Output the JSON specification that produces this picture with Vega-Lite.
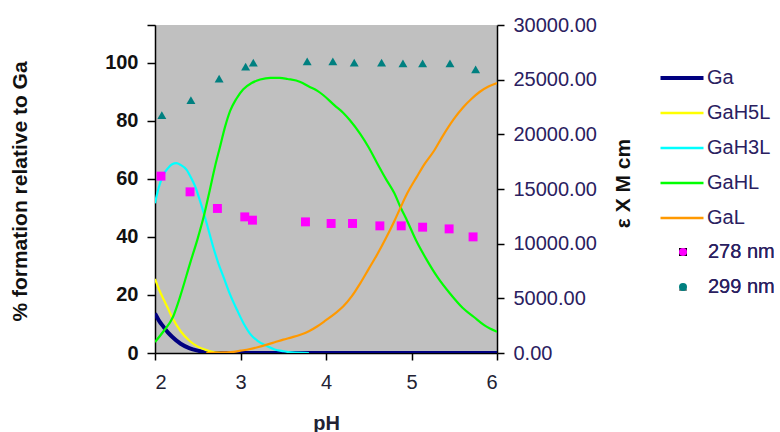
{
  "$schema": "https://vega.github.io/schema/vega-lite/v6.json",
  "width": 342,
  "height": 328,
  "autosize": {"type": "none"},
  "padding": {"left": 155, "top": 25, "right": 283, "bottom": 79},
  "background": "white",
  "config": {
    "view": {"fill": "#c0c0c0", "stroke": null},
    "font": "Liberation Sans",
    "axis": {"grid": false, "domainColor": "black", "tickColor": "black", "domainWidth": 1.5, "tickWidth": 1.5, "labelFont": "Liberation Sans", "titleFont": "Liberation Sans"},
    "legend": {"labelFont": "Liberation Sans"}
  },
  "datasets": {
    "species": [
      {"species": "Ga", "pH": 2.0, "pct": 13.6},
      {"species": "Ga", "pH": 2.05, "pct": 11.0},
      {"species": "Ga", "pH": 2.1, "pct": 9.0},
      {"species": "Ga", "pH": 2.15, "pct": 7.1},
      {"species": "Ga", "pH": 2.2, "pct": 5.6},
      {"species": "Ga", "pH": 2.3, "pct": 3.2},
      {"species": "Ga", "pH": 2.4, "pct": 1.7},
      {"species": "Ga", "pH": 2.5, "pct": 0.8},
      {"species": "Ga", "pH": 2.6, "pct": 0.2},
      {"species": "Ga", "pH": 2.7, "pct": 0},
      {"species": "Ga", "pH": 3.0, "pct": 0},
      {"species": "Ga", "pH": 4.0, "pct": 0},
      {"species": "Ga", "pH": 5.0, "pct": 0},
      {"species": "Ga", "pH": 6.0, "pct": 0},
      {"species": "GaH5L", "pH": 2.0, "pct": 25.5},
      {"species": "GaH5L", "pH": 2.05, "pct": 21.7},
      {"species": "GaH5L", "pH": 2.1, "pct": 18.5},
      {"species": "GaH5L", "pH": 2.15, "pct": 15.5},
      {"species": "GaH5L", "pH": 2.2, "pct": 12.3},
      {"species": "GaH5L", "pH": 2.3, "pct": 7.5},
      {"species": "GaH5L", "pH": 2.4, "pct": 4.3},
      {"species": "GaH5L", "pH": 2.5, "pct": 2.2},
      {"species": "GaH5L", "pH": 2.6, "pct": 1.0},
      {"species": "GaH5L", "pH": 2.7, "pct": 0.2},
      {"species": "GaH5L", "pH": 2.8, "pct": 0},
      {"species": "GaH3L", "pH": 2.0, "pct": 51.6},
      {"species": "GaH3L", "pH": 2.03, "pct": 55.5},
      {"species": "GaH3L", "pH": 2.06, "pct": 58.5},
      {"species": "GaH3L", "pH": 2.1, "pct": 61.5},
      {"species": "GaH3L", "pH": 2.15, "pct": 63.6},
      {"species": "GaH3L", "pH": 2.2, "pct": 65.0},
      {"species": "GaH3L", "pH": 2.25, "pct": 65.4},
      {"species": "GaH3L", "pH": 2.3, "pct": 64.8},
      {"species": "GaH3L", "pH": 2.37, "pct": 63.1},
      {"species": "GaH3L", "pH": 2.42, "pct": 60.5},
      {"species": "GaH3L", "pH": 2.47, "pct": 57.4},
      {"species": "GaH3L", "pH": 2.52, "pct": 53.0},
      {"species": "GaH3L", "pH": 2.57, "pct": 48.2},
      {"species": "GaH3L", "pH": 2.62, "pct": 43.0},
      {"species": "GaH3L", "pH": 2.68, "pct": 36.6},
      {"species": "GaH3L", "pH": 2.74, "pct": 31.0},
      {"species": "GaH3L", "pH": 2.8, "pct": 26.3},
      {"species": "GaH3L", "pH": 2.88, "pct": 20.0},
      {"species": "GaH3L", "pH": 2.96, "pct": 14.8},
      {"species": "GaH3L", "pH": 3.04, "pct": 10.0},
      {"species": "GaH3L", "pH": 3.11, "pct": 6.7},
      {"species": "GaH3L", "pH": 3.2, "pct": 4.2},
      {"species": "GaH3L", "pH": 3.31, "pct": 2.4},
      {"species": "GaH3L", "pH": 3.4, "pct": 1.2},
      {"species": "GaH3L", "pH": 3.5, "pct": 0.6},
      {"species": "GaH3L", "pH": 3.6, "pct": 0.2},
      {"species": "GaH3L", "pH": 3.8, "pct": 0},
      {"species": "GaHL", "pH": 2.0, "pct": 3.8},
      {"species": "GaHL", "pH": 2.1, "pct": 7.5},
      {"species": "GaHL", "pH": 2.21, "pct": 12.4},
      {"species": "GaHL", "pH": 2.3, "pct": 20.0},
      {"species": "GaHL", "pH": 2.41, "pct": 30.9},
      {"species": "GaHL", "pH": 2.5, "pct": 39.5},
      {"species": "GaHL", "pH": 2.57, "pct": 47.0},
      {"species": "GaHL", "pH": 2.64, "pct": 56.0},
      {"species": "GaHL", "pH": 2.7, "pct": 64.0},
      {"species": "GaHL", "pH": 2.76, "pct": 71.0},
      {"species": "GaHL", "pH": 2.82, "pct": 78.0},
      {"species": "GaHL", "pH": 2.88, "pct": 83.5},
      {"species": "GaHL", "pH": 2.95, "pct": 87.5},
      {"species": "GaHL", "pH": 3.03, "pct": 90.8},
      {"species": "GaHL", "pH": 3.13, "pct": 93.0},
      {"species": "GaHL", "pH": 3.23, "pct": 94.2},
      {"species": "GaHL", "pH": 3.35, "pct": 94.8},
      {"species": "GaHL", "pH": 3.46, "pct": 94.8},
      {"species": "GaHL", "pH": 3.55, "pct": 94.4},
      {"species": "GaHL", "pH": 3.7, "pct": 93.4},
      {"species": "GaHL", "pH": 3.8, "pct": 91.8},
      {"species": "GaHL", "pH": 3.9, "pct": 90.3},
      {"species": "GaHL", "pH": 3.97, "pct": 88.8},
      {"species": "GaHL", "pH": 4.1, "pct": 85.3},
      {"species": "GaHL", "pH": 4.2, "pct": 82.8},
      {"species": "GaHL", "pH": 4.28, "pct": 80.2},
      {"species": "GaHL", "pH": 4.4, "pct": 75.5},
      {"species": "GaHL", "pH": 4.5, "pct": 70.8},
      {"species": "GaHL", "pH": 4.6, "pct": 65.3},
      {"species": "GaHL", "pH": 4.7, "pct": 60.0},
      {"species": "GaHL", "pH": 4.8, "pct": 55.0},
      {"species": "GaHL", "pH": 4.87, "pct": 50.3},
      {"species": "GaHL", "pH": 4.95, "pct": 45.5},
      {"species": "GaHL", "pH": 5.05, "pct": 39.0},
      {"species": "GaHL", "pH": 5.18, "pct": 32.0},
      {"species": "GaHL", "pH": 5.3, "pct": 26.3},
      {"species": "GaHL", "pH": 5.45, "pct": 20.5},
      {"species": "GaHL", "pH": 5.6, "pct": 15.5},
      {"species": "GaHL", "pH": 5.73, "pct": 12.4},
      {"species": "GaHL", "pH": 5.85, "pct": 9.6},
      {"species": "GaHL", "pH": 6.0, "pct": 7.3},
      {"species": "GaL", "pH": 2.6, "pct": 0},
      {"species": "GaL", "pH": 2.8, "pct": 0.2},
      {"species": "GaL", "pH": 2.92, "pct": 0.4},
      {"species": "GaL", "pH": 3.0, "pct": 0.8},
      {"species": "GaL", "pH": 3.1, "pct": 1.3},
      {"species": "GaL", "pH": 3.2, "pct": 2.0},
      {"species": "GaL", "pH": 3.31, "pct": 2.9},
      {"species": "GaL", "pH": 3.4, "pct": 3.7},
      {"species": "GaL", "pH": 3.5, "pct": 4.6},
      {"species": "GaL", "pH": 3.6, "pct": 5.4},
      {"species": "GaL", "pH": 3.7, "pct": 6.3},
      {"species": "GaL", "pH": 3.8, "pct": 7.5},
      {"species": "GaL", "pH": 3.9, "pct": 9.2},
      {"species": "GaL", "pH": 4.0, "pct": 11.3},
      {"species": "GaL", "pH": 4.1, "pct": 13.5},
      {"species": "GaL", "pH": 4.2, "pct": 16.0},
      {"species": "GaL", "pH": 4.3, "pct": 19.5},
      {"species": "GaL", "pH": 4.4, "pct": 24.0},
      {"species": "GaL", "pH": 4.5, "pct": 29.0},
      {"species": "GaL", "pH": 4.6, "pct": 34.0},
      {"species": "GaL", "pH": 4.7, "pct": 39.5},
      {"species": "GaL", "pH": 4.8, "pct": 45.5},
      {"species": "GaL", "pH": 4.87, "pct": 50.0},
      {"species": "GaL", "pH": 4.95, "pct": 55.0},
      {"species": "GaL", "pH": 5.06, "pct": 60.6},
      {"species": "GaL", "pH": 5.15, "pct": 65.0},
      {"species": "GaL", "pH": 5.26, "pct": 69.5},
      {"species": "GaL", "pH": 5.37, "pct": 75.0},
      {"species": "GaL", "pH": 5.49, "pct": 80.4},
      {"species": "GaL", "pH": 5.6, "pct": 84.5},
      {"species": "GaL", "pH": 5.7, "pct": 87.5},
      {"species": "GaL", "pH": 5.8, "pct": 90.0},
      {"species": "GaL", "pH": 5.9, "pct": 91.8},
      {"species": "GaL", "pH": 6.0, "pct": 93.0}
    ],
    "abs": [
      {"wl": "278 nm", "pH": 2.07, "eps": 16177},
      {"wl": "278 nm", "pH": 2.41, "eps": 14740},
      {"wl": "278 nm", "pH": 2.73, "eps": 13220},
      {"wl": "278 nm", "pH": 3.05, "eps": 12450},
      {"wl": "278 nm", "pH": 3.14, "eps": 12150},
      {"wl": "278 nm", "pH": 3.76, "eps": 11993},
      {"wl": "278 nm", "pH": 4.06, "eps": 11846},
      {"wl": "278 nm", "pH": 4.31, "eps": 11846},
      {"wl": "278 nm", "pH": 4.63, "eps": 11627},
      {"wl": "278 nm", "pH": 4.88, "eps": 11627},
      {"wl": "278 nm", "pH": 5.13, "eps": 11508},
      {"wl": "278 nm", "pH": 5.44, "eps": 11352},
      {"wl": "278 nm", "pH": 5.72, "eps": 10620},
      {"wl": "299 nm", "pH": 2.08, "eps": 21760},
      {"wl": "299 nm", "pH": 2.42, "eps": 23135},
      {"wl": "299 nm", "pH": 2.75, "eps": 25085},
      {"wl": "299 nm", "pH": 3.06, "eps": 26183},
      {"wl": "299 nm", "pH": 3.15, "eps": 26550},
      {"wl": "299 nm", "pH": 3.78, "eps": 26677},
      {"wl": "299 nm", "pH": 4.08, "eps": 26677},
      {"wl": "299 nm", "pH": 4.33, "eps": 26550},
      {"wl": "299 nm", "pH": 4.65, "eps": 26550},
      {"wl": "299 nm", "pH": 4.9, "eps": 26490},
      {"wl": "299 nm", "pH": 5.13, "eps": 26490},
      {"wl": "299 nm", "pH": 5.45, "eps": 26490},
      {"wl": "299 nm", "pH": 5.75, "eps": 25945}
    ]
  },
  "layer": [
    {
      "data": {"name": "species"},
      "mark": {"type": "line", "interpolate": "monotone", "clip": true},
      "encoding": {
        "x": {"field": "pH", "type": "quantitative", "scale": {"domain": [2, 6], "nice": false},
          "axis": {"values": [2, 3, 4, 5, 6], "format": "d", "tickSize": 7, "labelFontSize": 20, "labelColor": "#222233", "labelPadding": 12,
            "title": "pH", "titleFontSize": 20, "titleFontWeight": "bold", "titleColor": "#222233", "titleX": 171, "titleY": 70, "titleBaseline": "middle", "titleAlign": "center"}},
        "y": {"field": "pct", "type": "quantitative", "scale": {"domain": [0, 113], "nice": false},
          "axis": {"orient": "left", "values": [0, 20, 40, 60, 80, 100, 113], "labelExpr": "datum.value > 105 ? '' : datum.label", "tickSize": 8, "labelFontSize": 20, "labelFontWeight": "bold", "labelColor": "#111111", "labelPadding": 9,
            "title": "% formation relative to Ga", "titleFontSize": 21, "titleFontWeight": "bold", "titleColor": "#111111", "titleAngle": -90, "titleX": -135, "titleY": 166, "titleBaseline": "middle", "titleAlign": "center"}},
        "color": {"field": "species", "type": "nominal",
          "scale": {"domain": ["Ga", "GaH5L", "GaH3L", "GaHL", "GaL"], "range": ["#000080", "#ffff00", "#00ffff", "#00ff00", "#ff9900"]},
          "legend": {"orient": "none", "legendX": 517, "legendY": 43, "title": null, "symbolType": "stroke", "symbolSize": 1849, "symbolStrokeWidth": 2.5, "labelFontSize": 20, "labelColor": "#2a2060", "labelOffset": 15, "rowPadding": 15,
            "encode": {"symbols": {"update": {"strokeWidth": {"signal": "datum.value === 'Ga' ? 4 : 2.5"}}}}}},
        "strokeWidth": {"condition": {"test": "datum.species === 'Ga'", "value": 4}, "value": 2.2}
      }
    },
    {
      "data": {"name": "abs"},
      "mark": {"type": "point", "filled": true, "opacity": 1, "size": 80},
      "encoding": {
        "x": {"field": "pH", "type": "quantitative"},
        "y": {"field": "eps", "type": "quantitative", "scale": {"domain": [0, 30000], "nice": false},
          "axis": {"orient": "right", "values": [0, 5000, 10000, 15000, 20000, 25000, 30000], "format": ".2f", "tickSize": 7, "labelFontSize": 20, "labelColor": "#2a2060", "labelPadding": 9,
            "title": "ε X M cm", "titleFontSize": 21, "titleFontWeight": "bold", "titleColor": "#111111", "titleAngle": -90, "titleX": 126, "titleY": 158, "titleBaseline": "middle", "titleAlign": "center"}},
        "color": {"field": "wl", "type": "nominal", "scale": {"domain": ["278 nm", "299 nm"], "range": ["#ff00ff", "#008080"]},
          "legend": {"orient": "none", "legendX": 518, "legendY": 217, "title": null, "symbolSize": 64, "labelFontSize": 20, "labelColor": "#2a2060", "labelOffset": 15, "rowPadding": 15}},
        "shape": {"field": "wl", "type": "nominal", "scale": {"domain": ["278 nm", "299 nm"], "range": ["square", "triangle-up"]},
          "legend": {"orient": "none", "legendX": 518, "legendY": 217, "title": null, "symbolSize": 64, "labelFontSize": 20, "labelColor": "#2a2060", "labelOffset": 15, "rowPadding": 15}}
      }
    }
  ],
  "resolve": {"scale": {"y": "independent", "color": "independent"}}
}
